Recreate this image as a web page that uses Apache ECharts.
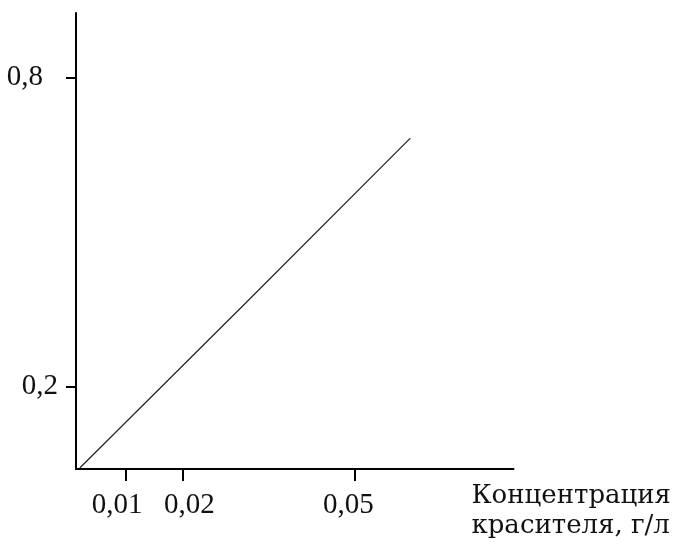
<!DOCTYPE html>
<html>
<head>
<meta charset="utf-8">
<script src="https://cdn.jsdelivr.net/npm/echarts@6/dist/echarts.min.js"></script>
<style>
  html, body { margin: 0; padding: 0; background: #fff; }
  #chart { width: 674px; height: 549px; }
</style>
</head>
<body>
<div id="chart"></div>
<script>
// values (hand drawn calibration line)
const concentration = [0.002, 0.031, 0.0597];
const absorbance = [0.042, 0.363, 0.683];
const xTicks = [0.01, 0.02, 0.05];
const yTicks = [0.2, 0.8];

const comma = (v) => String(v).replace(".", ",");

// labels in the drawing sit a little off their ticks, nudge them the same way
const xLabel = (v) => {
    const style = v === 0.02 ? "r" : v === 0.05 ? "m" : "l";
    return "{" + style + "|" + comma(v) + "}";
};
const yLabel = (v) => (v === 0.8 ? "{far|" + comma(v) + "}" : comma(v));

const chart = echarts.init(document.getElementById("chart"));

const options = {
    animation: false,
    grid: {
        left: 76,
        top: 13,
        right: 160,
        bottom: 80,
    },
    xAxis: {
        type: "value",
        min: 0.00134,
        max: 0.0777,
        name: "Концентрация\nкрасителя, г/л",
        nameLocation: "end",
        nameGap: -42,
        nameTextStyle: {
            fontFamily: "DejaVu Serif",
            fontSize: 26,
            color: "#111",
            align: "left",
            verticalAlign: "top",
            lineHeight: 30,
            padding: [12, 0, 0, 0],
        },
        splitLine: { show: false },
        axisLine: { lineStyle: { color: "#000", width: 2 } },
        axisTick: {
            customValues: xTicks,
            length: 12,
            lineStyle: { color: "#000", width: 2 },
        },
        axisLabel: {
            customValues: xTicks,
            formatter: xLabel,
            margin: 22,
            fontFamily: "Liberation Serif",
            fontSize: 29,
            color: "#111",
            rich: {
                l: { fontFamily: "Liberation Serif", fontSize: 29, color: "#111", padding: [0, 17, 0, 0] },
                r: { fontFamily: "Liberation Serif", fontSize: 29, color: "#111", padding: [0, 0, 0, 13] },
                m: { fontFamily: "Liberation Serif", fontSize: 29, color: "#111", padding: [0, 13, 0, 0] },
            },
        },
    },
    yAxis: {
        type: "value",
        min: 0.04,
        max: 0.926,
        splitLine: { show: false },
        axisLine: { show: true, lineStyle: { color: "#000", width: 2 } },
        axisTick: {
            show: true,
            customValues: yTicks,
            length: 10,
            lineStyle: { color: "#000", width: 2 },
        },
        axisLabel: {
            customValues: yTicks,
            formatter: yLabel,
            margin: 18,
            fontFamily: "Liberation Serif",
            fontSize: 29,
            color: "#111",
            rich: {
                far: { fontFamily: "Liberation Serif", fontSize: 29, color: "#111", padding: [0, 15, 0, 0] },
            },
        },
    },
    series: [
        {
            type: "line",
            data: concentration.map((c, i) => [c, absorbance[i]]),
            symbol: "none",
            lineStyle: { color: "#222", width: 1.2 },
        },
    ],
};

chart.setOption(options);
</script>
</body>
</html>
